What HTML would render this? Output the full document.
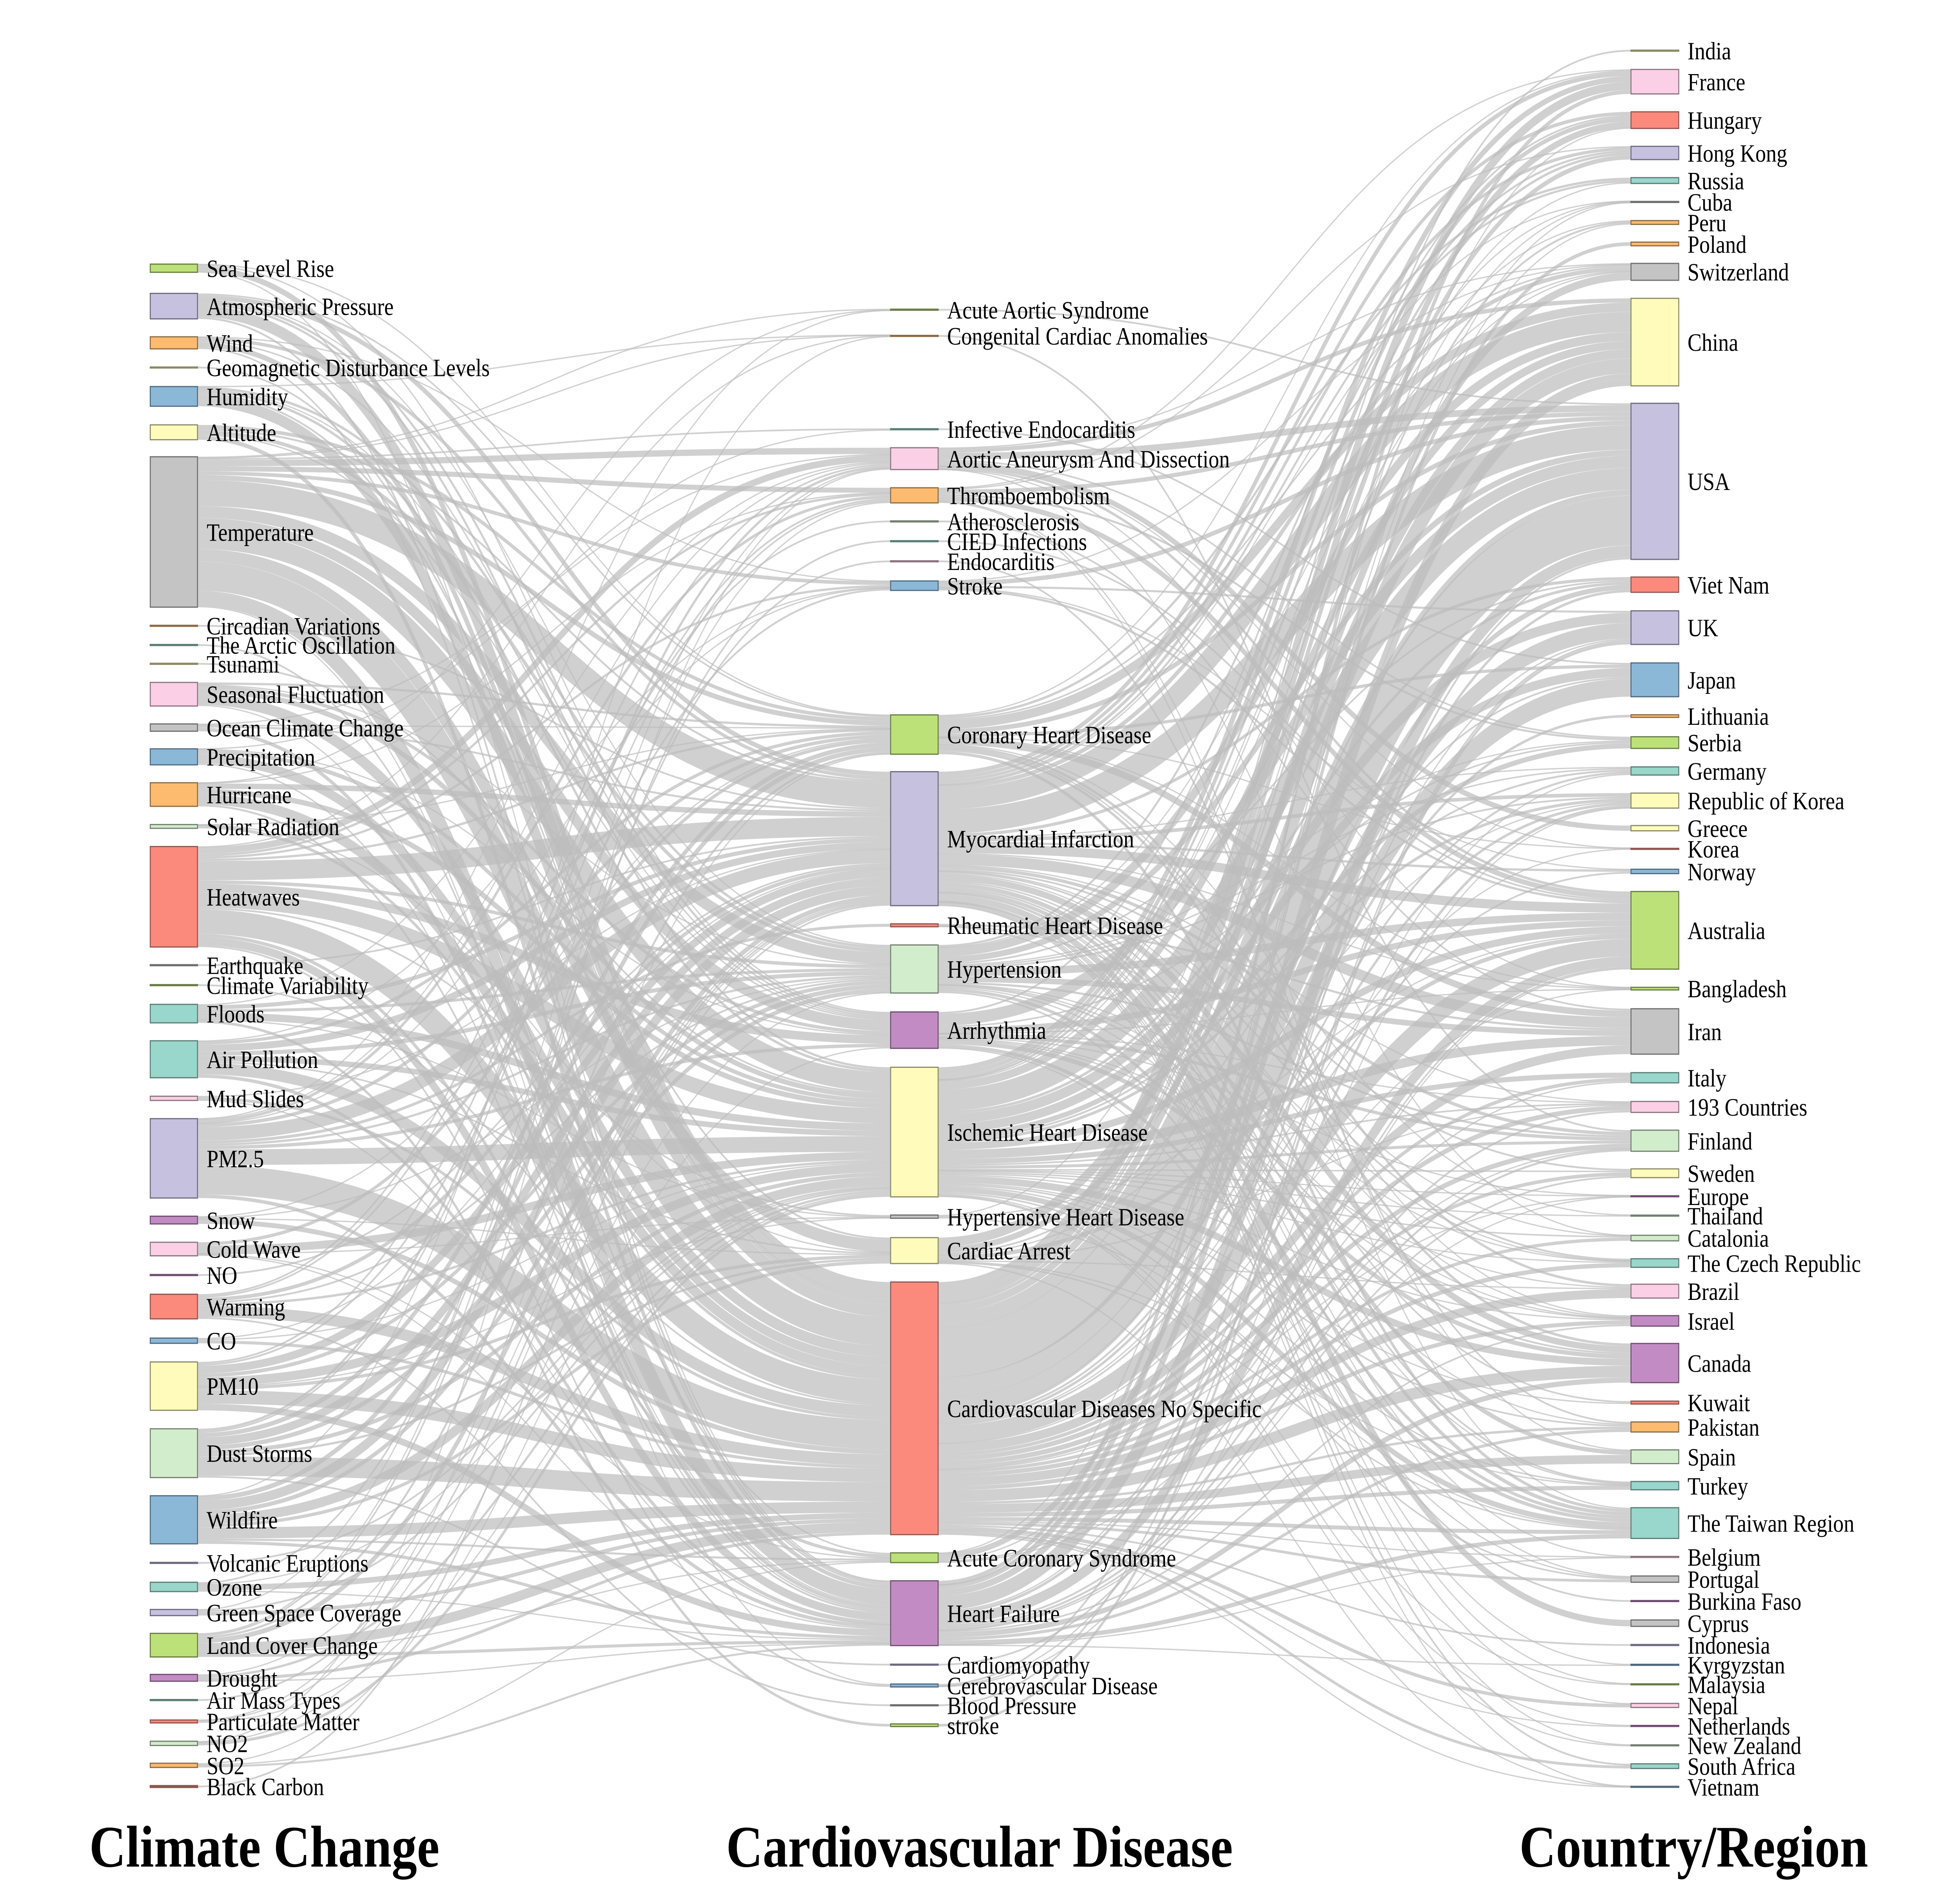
<!DOCTYPE html>
<html>
<head>
<meta charset="utf-8">
<style>
html,body{margin:0;padding:0;background:#fff;width:100%;height:100%;overflow:hidden;}
svg#s{display:block;width:100vw;height:100vh;}
.T{fill:#99d6cb;stroke:#5b7c76}
.Y{fill:#fffcbb;stroke:#8a8a66}
.L{fill:#c5c1de;stroke:#6e6a82}
.S{fill:#fb8a7c;stroke:#8e5650}
.B{fill:#8cb8d8;stroke:#4f6a80}
.O{fill:#fdbb6f;stroke:#8c6a45}
.G{fill:#bde179;stroke:#687c45}
.P{fill:#fbd0e6;stroke:#8b7480}
.A{fill:#c4c4c4;stroke:#6e6e6e}
.U{fill:#c38bc4;stroke:#6e4e70}
.N{fill:#d2edcb;stroke:#737f70}
rect{stroke-width:.8}
.t{stroke-width:.9}
.t.T{fill:#5b7c76}.t.Y{fill:#8a8a66}.t.L{fill:#6e6a82}.t.S{fill:#8e5650}.t.B{fill:#4f6a80}.t.O{fill:#8c6a45}
.t.G{fill:#687c45}.t.P{fill:#8b7480}.t.A{fill:#6e6e6e}.t.U{fill:#6e4e70}.t.N{fill:#737f70}
text{font-family:"Liberation Serif","Times New Roman",serif;font-size:17px;fill:#000;}
.ttl{font-size:40.5px;font-weight:bold;text-anchor:middle;}
</style>
</head>
<body>
<svg id="s" xmlns="http://www.w3.org/2000/svg" viewBox="0 0 1568 1293.94" preserveAspectRatio="none">
<rect x="0" y="0" width="1568" height="1293.94" fill="#fff" stroke="none"/>
<g id="lk" fill="none" stroke="#bcbcbc" stroke-opacity="0.7"></g>

<!-- LEFT NODES -->
<g>
<rect class="cl G" x="120.2" y="181.4" width="37.8" height="5.6"/>
<rect class="cl L" x="120.2" y="201.5" width="37.8" height="17.5"/>
<rect class="cl O" x="120.2" y="231.3" width="37.8" height="8.3"/>
<rect class="cl t Y" x="120.2" y="252.1" width="37.8" height="0.6"/>
<rect class="cl B" x="120.2" y="265.5" width="37.8" height="13.5"/>
<rect class="cl Y" x="120.2" y="291.8" width="37.8" height="10.2"/>
<rect class="cl A" x="120.2" y="313.7" width="37.8" height="103.3"/>
<rect class="cl t O" x="120.2" y="429.5" width="37.8" height="0.6"/>
<rect class="cl t T" x="120.2" y="442.7" width="37.8" height="0.6"/>
<rect class="cl t Y" x="120.2" y="455.6" width="37.8" height="0.6"/>
<rect class="cl P" x="120.2" y="468.7" width="37.8" height="16.2"/>
<rect class="cl A" x="120.2" y="497.2" width="37.8" height="5"/>
<rect class="cl B" x="120.2" y="514.3" width="37.8" height="11"/>
<rect class="cl O" x="120.2" y="537.6" width="37.8" height="16.2"/>
<rect class="cl N" x="120.2" y="566.3" width="37.8" height="2.6"/>
<rect class="cl S" x="120.2" y="581.4" width="37.8" height="69"/>
<rect class="cl t A" x="120.2" y="662.6" width="37.8" height="0.6"/>
<rect class="cl t G" x="120.2" y="676.3" width="37.8" height="0.6"/>
<rect class="cl T" x="120.2" y="689.8" width="37.8" height="12.7"/>
<rect class="cl T" x="120.2" y="714.8" width="37.8" height="25.4"/>
<rect class="cl P" x="120.2" y="752.9" width="37.8" height="2.9"/>
<rect class="cl L" x="120.2" y="768.3" width="37.8" height="54.5"/>
<rect class="cl U" x="120.2" y="835.3" width="37.8" height="5.3"/>
<rect class="cl P" x="120.2" y="853.2" width="37.8" height="9.3"/>
<rect class="cl t U" x="120.2" y="875.4" width="37.8" height="0.6"/>
<rect class="cl S" x="120.2" y="888.9" width="37.8" height="16.9"/>
<rect class="cl B" x="120.2" y="919" width="37.8" height="3.6"/>
<rect class="cl Y" x="120.2" y="935.4" width="37.8" height="33.2"/>
<rect class="cl N" x="120.2" y="981.3" width="37.8" height="33.5"/>
<rect class="cl B" x="120.2" y="1027.3" width="37.8" height="33"/>
<rect class="cl t L" x="120.2" y="1073.1" width="37.8" height="0.6"/>
<rect class="cl T" x="120.2" y="1086.7" width="37.8" height="6.4"/>
<rect class="cl L" x="120.2" y="1105.4" width="37.8" height="4.2"/>
<rect class="cl G" x="120.2" y="1121.8" width="37.8" height="16.2"/>
<rect class="cl U" x="120.2" y="1150" width="37.8" height="4.7"/>
<rect class="cl t T" x="120.2" y="1167.3" width="37.8" height="0.6"/>
<rect class="cl S" x="120.2" y="1181.3" width="37.8" height="2"/>
<rect class="cl N" x="120.2" y="1195.9" width="37.8" height="2.9"/>
<rect class="cl O" x="120.2" y="1211" width="37.8" height="2.9"/>
<rect class="cl t S" x="120.2" y="1226.4" width="37.8" height="1.2"/>
</g>

<!-- MIDDLE NODES -->
<g>
<rect class="cm t G" x="712.5" y="212.4" width="38" height="0.6"/>
<rect class="cm t O" x="712.5" y="230.4" width="38" height="0.6"/>
<rect class="cm t T" x="712.5" y="294.5" width="38" height="0.6"/>
<rect class="cm P" x="712.5" y="307.5" width="38" height="15"/>
<rect class="cm O" x="712.5" y="335" width="38" height="10.4"/>
<rect class="cm t N" x="712.5" y="357.8" width="38" height="0.6"/>
<rect class="cm t T" x="712.5" y="371.4" width="38" height="0.6"/>
<rect class="cm t P" x="712.5" y="385.2" width="38" height="0.6"/>
<rect class="cm B" x="712.5" y="399" width="38" height="6.5"/>
<rect class="cm G" x="712.5" y="491" width="38" height="27"/>
<rect class="cm L" x="712.5" y="530" width="38" height="92"/>
<rect class="cm S" x="712.5" y="634.5" width="38" height="2"/>
<rect class="cm N" x="712.5" y="649" width="38" height="33"/>
<rect class="cm U" x="712.5" y="695" width="38" height="25"/>
<rect class="cm Y" x="712.5" y="733" width="38" height="89"/>
<rect class="cm A" x="712.5" y="834.5" width="38" height="2.2"/>
<rect class="cm Y" x="712.5" y="850" width="38" height="17.8"/>
<rect class="cm S" x="712.5" y="880.5" width="38" height="173.5"/>
<rect class="cm G" x="712.5" y="1066.5" width="38" height="6.7"/>
<rect class="cm U" x="712.5" y="1085.7" width="38" height="44.5"/>
<rect class="cm t L" x="712.5" y="1143" width="38" height="0.6"/>
<rect class="cm B" x="712.5" y="1156.6" width="38" height="2"/>
<rect class="cm t A" x="712.5" y="1170.9" width="38" height="0.6"/>
<rect class="cm G" x="712.5" y="1184" width="38" height="1.8"/>
</g>

<!-- RIGHT NODES -->
<g>
<rect class="cr t Y" x="1304.8" y="34.5" width="38.2" height="0.6"/>
<rect class="cr P" x="1304.8" y="47.7" width="38.2" height="16.8"/>
<rect class="cr S" x="1304.8" y="76.8" width="38.2" height="11.4"/>
<rect class="cr L" x="1304.8" y="100.5" width="38.2" height="9.1"/>
<rect class="cr T" x="1304.8" y="122" width="38.2" height="4"/>
<rect class="cr t A" x="1304.8" y="138.4" width="38.2" height="0.6"/>
<rect class="cr O" x="1304.8" y="151.5" width="38.2" height="2.6"/>
<rect class="cr O" x="1304.8" y="166.3" width="38.2" height="2.5"/>
<rect class="cr A" x="1304.8" y="180.9" width="38.2" height="11.6"/>
<rect class="cr Y" x="1304.8" y="204.9" width="38.2" height="60.1"/>
<rect class="cr L" x="1304.8" y="277" width="38.2" height="107.2"/>
<rect class="cr S" x="1304.8" y="396.3" width="38.2" height="10.5"/>
<rect class="cr L" x="1304.8" y="419.5" width="38.2" height="23.1"/>
<rect class="cr B" x="1304.8" y="455.3" width="38.2" height="23.2"/>
<rect class="cr O" x="1304.8" y="490.9" width="38.2" height="1.8"/>
<rect class="cr G" x="1304.8" y="506" width="38.2" height="8"/>
<rect class="cr T" x="1304.8" y="526.7" width="38.2" height="5.6"/>
<rect class="cr Y" x="1304.8" y="544.7" width="38.2" height="10.3"/>
<rect class="cr Y" x="1304.8" y="567" width="38.2" height="3.6"/>
<rect class="cr t S" x="1304.8" y="582.7" width="38.2" height="0.6"/>
<rect class="cr B" x="1304.8" y="597" width="38.2" height="3"/>
<rect class="cr G" x="1304.8" y="612.3" width="38.2" height="53.3"/>
<rect class="cr G" x="1304.8" y="678.1" width="38.2" height="1.8"/>
<rect class="cr A" x="1304.8" y="692.8" width="38.2" height="31.2"/>
<rect class="cr T" x="1304.8" y="736.7" width="38.2" height="7"/>
<rect class="cr P" x="1304.8" y="756.5" width="38.2" height="7.5"/>
<rect class="cr N" x="1304.8" y="776.2" width="38.2" height="14.5"/>
<rect class="cr Y" x="1304.8" y="802.8" width="38.2" height="6"/>
<rect class="cr t U" x="1304.8" y="821.3" width="38.2" height="0.6"/>
<rect class="cr t N" x="1304.8" y="834.6" width="38.2" height="0.6"/>
<rect class="cr N" x="1304.8" y="848.4" width="38.2" height="3.8"/>
<rect class="cr T" x="1304.8" y="864.5" width="38.2" height="5.9"/>
<rect class="cr P" x="1304.8" y="882" width="38.2" height="9.5"/>
<rect class="cr U" x="1304.8" y="903.6" width="38.2" height="7.2"/>
<rect class="cr U" x="1304.8" y="922.7" width="38.2" height="26.9"/>
<rect class="cr S" x="1304.8" y="962.3" width="38.2" height="2"/>
<rect class="cr O" x="1304.8" y="976.6" width="38.2" height="6.9"/>
<rect class="cr N" x="1304.8" y="995.8" width="38.2" height="9.4"/>
<rect class="cr T" x="1304.8" y="1017.5" width="38.2" height="5.7"/>
<rect class="cr T" x="1304.8" y="1035.5" width="38.2" height="21.1"/>
<rect class="cr t P" x="1304.8" y="1069" width="38.2" height="0.6"/>
<rect class="cr A" x="1304.8" y="1082.4" width="38.2" height="4.3"/>
<rect class="cr t U" x="1304.8" y="1099.3" width="38.2" height="0.6"/>
<rect class="cr A" x="1304.8" y="1112.6" width="38.2" height="4.4"/>
<rect class="cr t L" x="1304.8" y="1129.5" width="38.2" height="0.6"/>
<rect class="cr t B" x="1304.8" y="1143.1" width="38.2" height="0.6"/>
<rect class="cr t G" x="1304.8" y="1156.5" width="38.2" height="0.6"/>
<rect class="cr P" x="1304.8" y="1169.9" width="38.2" height="2.8"/>
<rect class="cr t U" x="1304.8" y="1185.1" width="38.2" height="0.6"/>
<rect class="cr t N" x="1304.8" y="1198.4" width="38.2" height="0.6"/>
<rect class="cr T" x="1304.8" y="1211.4" width="38.2" height="3.2"/>
<rect class="cr t B" x="1304.8" y="1226.9" width="38.2" height="0.6"/>
</g>

<!-- LEFT LABELS -->
<g>
<text x="165.3" y="190.2">Sea Level Rise</text>
<text x="165.3" y="216.3">Atmospheric Pressure</text>
<text x="165.3" y="241.5">Wind</text>
<text x="165.3" y="258.4">Geomagnetic Disturbance Levels</text>
<text x="165.3" y="278.3">Humidity</text>
<text x="165.3" y="302.9">Altitude</text>
<text x="165.3" y="371.4">Temperature</text>
<text x="165.3" y="435.8">Circadian Variations</text>
<text x="165.3" y="449">The Arctic Oscillation</text>
<text x="165.3" y="461.9">Tsunami</text>
<text x="165.3" y="482.8">Seasonal Fluctuation</text>
<text x="165.3" y="505.7">Ocean Climate Change</text>
<text x="165.3" y="525.8">Precipitation</text>
<text x="165.3" y="551.7">Hurricane</text>
<text x="165.3" y="573.6">Solar Radiation</text>
<text x="165.3" y="621.9">Heatwaves</text>
<text x="165.3" y="668.9">Earthquake</text>
<text x="165.3" y="682.6">Climate Variability</text>
<text x="165.3" y="702.2">Floods</text>
<text x="165.3" y="733.5">Air Pollution</text>
<text x="165.3" y="760.4">Mud Slides</text>
<text x="165.3" y="801.6">PM2.5</text>
<text x="165.3" y="844">Snow</text>
<text x="165.3" y="863.9">Cold Wave</text>
<text x="165.3" y="881.7">NO</text>
<text x="165.3" y="903.4">Warming</text>
<text x="165.3" y="926.8">CO</text>
<text x="165.3" y="958">PM10</text>
<text x="165.3" y="1004">Dust Storms</text>
<text x="165.3" y="1049.8">Wildfire</text>
<text x="165.3" y="1079.4">Volcanic Eruptions</text>
<text x="165.3" y="1095.9">Ozone</text>
<text x="165.3" y="1113.5">Green Space Coverage</text>
<text x="165.3" y="1135.9">Land Cover Change</text>
<text x="165.3" y="1158.4">Drought</text>
<text x="165.3" y="1173.6">Air Mass Types</text>
<text x="165.3" y="1188.3">Particulate Matter</text>
<text x="165.3" y="1203.4">NO2</text>
<text x="165.3" y="1218.5">SO2</text>
<text x="165.3" y="1233">Black Carbon</text>
</g>

<!-- MIDDLE LABELS -->
<g>
<text x="757.7" y="218.7">Acute Aortic Syndrome</text>
<text x="757.7" y="236.7">Congenital Cardiac Anomalies</text>
<text x="757.7" y="300.8">Infective Endocarditis</text>
<text x="757.7" y="321">Aortic Aneurysm And Dissection</text>
<text x="757.7" y="346.2">Thromboembolism</text>
<text x="757.7" y="364.1">Atherosclerosis</text>
<text x="757.7" y="377.7">CIED Infections</text>
<text x="757.7" y="391.5">Endocarditis</text>
<text x="757.7" y="408.3">Stroke</text>
<text x="757.7" y="510.5">Coronary Heart Disease</text>
<text x="757.7" y="582">Myocardial Infarction</text>
<text x="757.7" y="641.5">Rheumatic Heart Disease</text>
<text x="757.7" y="671.5">Hypertension</text>
<text x="757.7" y="713.5">Arrhythmia</text>
<text x="757.7" y="783.5">Ischemic Heart Disease</text>
<text x="757.7" y="841.6">Hypertensive Heart Disease</text>
<text x="757.7" y="864.9">Cardiac Arrest</text>
<text x="757.7" y="973.3">Cardiovascular Diseases No Specific</text>
<text x="757.7" y="1075.9">Acute Coronary Syndrome</text>
<text x="757.7" y="1114">Heart Failure</text>
<text x="757.7" y="1149.3">Cardiomyopathy</text>
<text x="757.7" y="1163.6">Cerebrovascular Disease</text>
<text x="757.7" y="1177.2">Blood Pressure</text>
<text x="757.7" y="1190.9">stroke</text>
</g>

<!-- RIGHT LABELS -->
<g>
<text x="1350" y="40.8">India</text>
<text x="1350" y="62.1">France</text>
<text x="1350" y="88.5">Hungary</text>
<text x="1350" y="111">Hong Kong</text>
<text x="1350" y="130">Russia</text>
<text x="1350" y="144.7">Cuba</text>
<text x="1350" y="158.8">Peru</text>
<text x="1350" y="173.6">Poland</text>
<text x="1350" y="192.7">Switzerland</text>
<text x="1350" y="241">China</text>
<text x="1350" y="336.6">USA</text>
<text x="1350" y="407.6">Viet Nam</text>
<text x="1350" y="437">UK</text>
<text x="1350" y="472.9">Japan</text>
<text x="1350" y="497.8">Lithuania</text>
<text x="1350" y="516">Serbia</text>
<text x="1350" y="535.5">Germany</text>
<text x="1350" y="555.9">Republic of Korea</text>
<text x="1350" y="574.8">Greece</text>
<text x="1350" y="589">Korea</text>
<text x="1350" y="604.5">Norway</text>
<text x="1350" y="645">Australia</text>
<text x="1350" y="685">Bangladesh</text>
<text x="1350" y="714.4">Iran</text>
<text x="1350" y="746.2">Italy</text>
<text x="1350" y="766.3">193 Countries</text>
<text x="1350" y="789.5">Finland</text>
<text x="1350" y="811.8">Sweden</text>
<text x="1350" y="827.6">Europe</text>
<text x="1350" y="840.9">Thailand</text>
<text x="1350" y="856.3">Catalonia</text>
<text x="1350" y="873.5">The Czech Republic</text>
<text x="1350" y="892.8">Brazil</text>
<text x="1350" y="913.2">Israel</text>
<text x="1350" y="942.2">Canada</text>
<text x="1350" y="969.3">Kuwait</text>
<text x="1350" y="986.1">Pakistan</text>
<text x="1350" y="1006.5">Spain</text>
<text x="1350" y="1026.4">Turkey</text>
<text x="1350" y="1052.1">The Taiwan Region</text>
<text x="1350" y="1075.3">Belgium</text>
<text x="1350" y="1090.6">Portugal</text>
<text x="1350" y="1105.6">Burkina Faso</text>
<text x="1350" y="1120.8">Cyprus</text>
<text x="1350" y="1135.8">Indonesia</text>
<text x="1350" y="1149.4">Kyrgyzstan</text>
<text x="1350" y="1162.8">Malaysia</text>
<text x="1350" y="1177.3">Nepal</text>
<text x="1350" y="1191.4">Netherlands</text>
<text x="1350" y="1204.7">New Zealand</text>
<text x="1350" y="1219">South Africa</text>
<text x="1350" y="1233.2">Vietnam</text>
</g>

<!-- TITLES -->
<text class="ttl" x="211.5" y="1282">Climate Change</text>
<text class="ttl" x="783.6" y="1282">Cardiovascular Disease</text>
<text class="ttl" x="1355" y="1282">Country/Region</text>
</svg>

<script>
(function(){
var NS='http://www.w3.org/2000/svg';
var g=document.getElementById('lk');
function nodes(c){
  var a=[];var rs=document.querySelectorAll('rect.'+c);
  for(var k=0;k<rs.length;k++){
    var r=rs[k];
    var y=parseFloat(r.getAttribute('y')),h=parseFloat(r.getAttribute('height'));
    var x=parseFloat(r.getAttribute('x')),w=parseFloat(r.getAttribute('width'));
    var v=h<1.3?1.2:h;var cc=y+h/2;
    a.push({c:cc,top:cc-v/2,v:v,x0:x,x1:x+w,out:[],inn:[]});
  }
  return a;
}
var Ln=nodes('cl'),Mn=nodes('cm'),Rn=nodes('cr');
var seed=20240611;
function rnd(){seed=(seed*16807)%2147483647;return (seed-1)/2147483646;}
function pick(w,ex){
  var s=0,j;
  for(j=0;j<w.length;j++)if(!ex[j])s+=w[j];
  if(s<=0)return -1;
  var r=rnd()*s;
  for(j=0;j<w.length;j++){if(ex[j])continue;r-=w[j];if(r<=0)return j;}
  for(j=w.length-1;j>=0;j--)if(!ex[j])return j;
  return -1;
}
function build(A,B,p,mx,q){
  var m=A.length,n=B.length,W=[],i,j;
  for(i=0;i<m;i++){var row=[];for(j=0;j<n;j++)row.push(0);W.push(row);}
  for(i=0;i<m;i++){
    var k=A[i].v<2?1:Math.min(mx,Math.round(1+Math.pow(A[i].v,p)));
    if(k>n)k=n;
    var w=[];for(j=0;j<n;j++)w.push(Math.pow(B[j].v,q)*(0.2+rnd()));
    for(var t=0;t<k;t++){
      var ex=[];for(j=0;j<n;j++)ex.push(W[i][j]>0);
      var jj=pick(w,ex);if(jj<0)break;
      W[i][jj]=0.3+rnd();
    }
  }
  for(j=0;j<n;j++){
    var has=false;for(i=0;i<m;i++)if(W[i][j]>0)has=true;
    if(!has){
      var wa=[],ea=[];for(i=0;i<m;i++){wa.push(A[i].v);ea.push(false);}
      var ii=pick(wa,ea);W[ii][j]=0.5;
    }
  }
  var SA=0,SB=0;
  for(i=0;i<m;i++)SA+=A[i].v;for(j=0;j<n;j++)SB+=B[j].v;
  for(var it=0;it<400;it++){
    for(i=0;i<m;i++){var s=0;for(j=0;j<n;j++)s+=W[i][j];if(s>0)for(j=0;j<n;j++)W[i][j]*=A[i].v/s;}
    for(j=0;j<n;j++){var s2=0;for(i=0;i<m;i++)s2+=W[i][j];if(s2>0){var f=B[j].v*SA/SB/s2;for(i=0;i<m;i++)W[i][j]*=f;}}
  }
  var links=[];
  for(i=0;i<m;i++)for(j=0;j<n;j++)if(W[i][j]>1e-4){
    var l={s:A[i],t:B[j],v:W[i][j]};links.push(l);A[i].out.push(l);B[j].inn.push(l);
  }
  return links;
}
var L1=build(Ln,Mn,0.6,16,1.0);
var L2=build(Mn,Rn,0.78,40,0.85);
function layout(N){
  N.forEach(function(nd){
    nd.out.sort(function(a,b){return a.t.c-b.t.c;});
    nd.inn.sort(function(a,b){return a.s.c-b.s.c;});
    var so=0,si=0;
    nd.out.forEach(function(l){so+=l.v;});
    nd.inn.forEach(function(l){si+=l.v;});
    var y=nd.top;
    nd.out.forEach(function(l){var w=l.v*nd.v/so;l.ws=w;l.sy=y+w/2;y+=w;});
    y=nd.top;
    nd.inn.forEach(function(l){var w=l.v*nd.v/si;l.wt=w;l.ty=y+w/2;y+=w;});
  });
}
layout(Ln);layout(Mn);layout(Rn);
var all=L1.concat(L2);
all.sort(function(a,b){return b.v-a.v;});
all.forEach(function(l){
  var x0=l.s.x1,x1=l.t.x0,xm=(x0+x1)/2;
  var p=document.createElementNS(NS,'path');
  p.setAttribute('d','M'+x0.toFixed(2)+','+l.sy.toFixed(2)+'C'+xm.toFixed(2)+','+l.sy.toFixed(2)+' '+xm.toFixed(2)+','+l.ty.toFixed(2)+' '+x1.toFixed(2)+','+l.ty.toFixed(2));
  p.setAttribute('stroke-width',Math.max(0.9,(l.ws+l.wt)/2).toFixed(2));
  g.appendChild(p);
});
})();
</script>
</body>
</html>
